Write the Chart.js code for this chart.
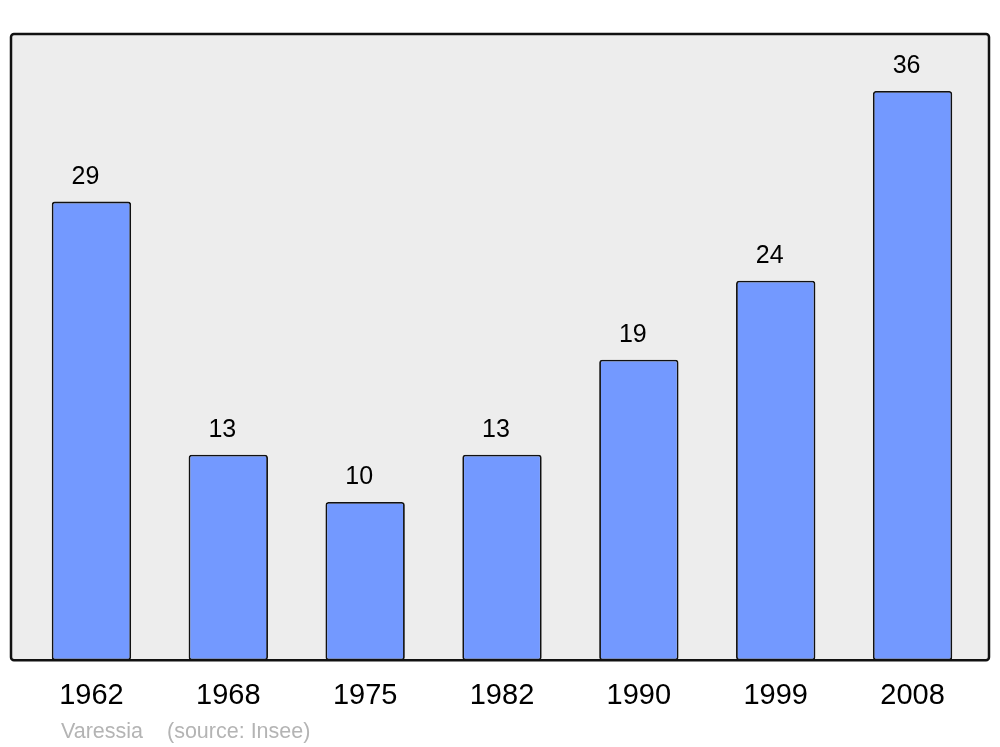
<!DOCTYPE html>
<html>
<head>
<meta charset="utf-8">
<script src="https://cdn.jsdelivr.net/npm/chart.js@4"></script>
<style>
  html, body { margin: 0; padding: 0; background: #fff; }
  #wrap { width: 1000px; height: 747px; }
</style>
</head>
<body>
<div id="wrap"><canvas id="popChart" width="1000" height="747"></canvas></div>
<script>
const years = ["1962", "1968", "1975", "1982", "1990", "1999", "2008"];
const population = [29, 13, 10, 13, 19, 24, 36];
const footerText = ["Varessia", "(source: Insee)"];

// grey frame behind the bars
const framePlugin = {
  id: "frame",
  beforeDraw(chart) {
    const { ctx, chartArea: a } = chart;
    ctx.save();
    ctx.beginPath();
    ctx.roundRect(a.left - 12, a.top, a.right - a.left + 20, a.bottom - a.top, 3);
    ctx.fillStyle = "#ededed";
    ctx.fill();
    ctx.lineWidth = 2.5;
    ctx.strokeStyle = "#111";
    ctx.stroke();
    ctx.restore();
  }
};

// numbers above bars + source line
const labelPlugin = {
  id: "labels",
  afterDatasetsDraw(chart) {
    const { ctx } = chart;
    const meta = chart.getDatasetMeta(0);
    ctx.save();
    ctx.font = "25px 'Liberation Sans', Arial, sans-serif";
    ctx.fillStyle = "#000";
    ctx.textAlign = "center";
    ctx.textBaseline = "alphabetic";
    meta.data.forEach((bar, i) => {
      ctx.fillText(String(population[i]), bar.x - 6, bar.y - 18);
    });
    ctx.font = "21.5px 'Liberation Sans', Arial, sans-serif";
    ctx.fillStyle = "#b4b4b4";
    ctx.textAlign = "left";
    ctx.fillText(footerText[0], 61, 738);
    ctx.fillText(footerText[1], 167, 738);
    ctx.restore();
  }
};

new Chart(document.getElementById("popChart"), {
  type: "bar",
  data: {
    labels: years,
    datasets: [{
      data: population,
      backgroundColor: "#7399ff",
      borderColor: "#111",
      borderWidth: 1.8,
      borderRadius: 3,
      borderSkipped: false,
      barPercentage: 0.58,
      categoryPercentage: 1
    }]
  },
  options: {
    responsive: false,
    animation: false,
    layout: { padding: { left: 23, right: 19, top: 34, bottom: 24 } },
    plugins: { legend: { display: false }, tooltip: { enabled: false } },
    scales: {
      y: { display: false, min: 0, max: 39.6 },
      x: {
        grid: { display: false },
        border: { display: false },
        ticks: {
          color: "#000",
          padding: 10,
          font: { family: "'Liberation Sans', Arial, sans-serif", size: 29 }
        }
      }
    }
  },
  plugins: [framePlugin, labelPlugin]
});
</script>
</body>
</html>
